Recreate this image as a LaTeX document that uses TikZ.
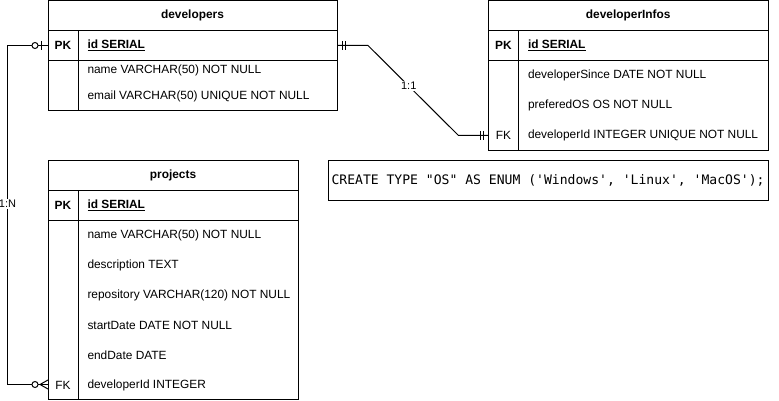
\documentclass[tikz,border=0pt]{standalone}
\usepackage{fontspec}
\setmainfont{Liberation Sans}
\newfontfamily\sqlfont{DejaVu Sans Mono}
\usetikzlibrary{calc}
\begin{document}
\begin{tikzpicture}[x=1pt,y=-1pt,line width=1pt,
  part/.style={draw, rectangle, inner sep=0pt, outer sep=0pt, anchor=north west},
  hidden/.style={rectangle, inner sep=0pt, outer sep=0pt, anchor=west},
  ttl/.style={inner sep=0pt, font=\bfseries\fontsize{11.9}{14}\selectfont},
  fld/.style={anchor=west, inner sep=0pt, font=\fontsize{11.9}{14}\selectfont},
  pkf/.style={anchor=west, inner sep=0pt, font=\bfseries\fontsize{11.9}{14}\selectfont},
  keyl/.style={inner sep=0pt, font=\bfseries\fontsize{11.9}{14}\selectfont},
  fkl/.style={inner sep=0pt, font=\fontsize{11.9}{14}\selectfont},
  lbl/.style={fill=white, inner sep=1pt, font=\fontsize{11}{13}\selectfont},
  conn/.style={draw, line width=1pt},
  endmark/.style={draw, line width=1pt}]
\useasboundingbox (0,0) rectangle (779,401);

% ---------------- developers ----------------
\node[part, minimum width=289pt, minimum height=30pt] (devH) at (48,0.5) {};
\node[part, minimum width=289pt, minimum height=30pt] (devPK) at (48,30.5) {};
\node[part, minimum width=289pt, minimum height=50pt] (devR) at (48,60.5) {};
\draw ($(devPK.north west)+(30,0)$) -- ($(devR.south west)+(30,0)$);
\node[ttl] (devT) at (devH) {developers};
\node[keyl] (devPKk) at (63,45.5) {PK};
\node[pkf] (devPKf) at (87,45.5) {\underline{id SERIAL}};
\node[fld] (devF1) at (87,70.5) {name VARCHAR(50) NOT NULL};
\node[fld] (devF2) at (87,96.5) {email VARCHAR(50) UNIQUE NOT NULL};

% ---------------- developerInfos ----------------
\node[part, minimum width=279.5pt, minimum height=30pt] (infH) at (488.5,0.5) {};
\node[part, minimum width=279.5pt, minimum height=30pt] (infPK) at (488.5,30.5) {};
\node[part, minimum width=279.5pt, minimum height=90pt] (infR) at (488.5,60.5) {};
\draw ($(infPK.north west)+(30,0)$) -- ($(infR.south west)+(30,0)$);
\node[ttl] (infT) at (infH) {developerInfos};
\node[keyl] (infPKk) at (503.5,45.5) {PK};
\node[pkf] (infPKf) at (527.5,45.5) {\underline{id SERIAL}};
\node[fld] (infF1) at (527.5,75.5) {developerSince DATE NOT NULL};
\node[fld] (infF2) at (527.5,105.5) {preferedOS OS NOT NULL};
\node[fld] (infF3) at (527.5,135.5) {developerId INTEGER UNIQUE NOT NULL};
\node[fkl] (infFKk) at (503.5,135.5) {FK};
\node[hidden, minimum width=279.5pt, minimum height=30pt] (infFK) at (488.5,135.5) {};

% ---------------- enum ----------------
\node[part, minimum width=439.5pt, minimum height=40pt] (enumB) at (328.5,160.5) {};
\node[anchor=west, inner sep=0pt, font=\sqlfont\fontsize{13.08}{15}\selectfont] (enumT) at (331,180.5)
  {CREATE TYPE "OS" AS ENUM ('Windows', 'Linux', 'MacOS');};

% ---------------- projects ----------------
\node[part, minimum width=250pt, minimum height=30pt] (prjH) at (48,160.5) {};
\node[part, minimum width=250pt, minimum height=30pt] (prjPK) at (48,190.5) {};
\node[part, minimum width=250pt, minimum height=179pt] (prjR) at (48,220.5) {};
\draw ($(prjPK.north west)+(30,0)$) -- ($(prjR.south west)+(30,0)$);
\node[ttl] (prjT) at (prjH) {projects};
\node[keyl] (prjPKk) at (63,205.5) {PK};
\node[pkf] (prjPKf) at (87,205.5) {\underline{id SERIAL}};
\node[fld] (prjF1) at (87,235.5) {name VARCHAR(50) NOT NULL};
\node[fld] (prjF2) at (87,265.5) {description TEXT};
\node[fld] (prjF3) at (87,295.5) {repository VARCHAR(120) NOT NULL};
\node[fld] (prjF4) at (87,325.5) {startDate DATE NOT NULL};
\node[fld] (prjF5) at (87,355.5) {endDate DATE};
\node[fld] (prjF6) at (87,385) {developerId INTEGER};
\node[fkl] (prjFKk) at (63,385) {FK};
\node[hidden, minimum width=250pt, minimum height=30pt] (prjFK) at (48,384.5) {};

% ---------------- connectors ----------------
\draw[conn] (devPK.east) -- ($(devPK.east)+(31,0)$)
  -- node[lbl, pos=0.45] (l11) {1:1} ($(infFK.west)+(-30,0)$) -- (infFK.west);
\draw[conn] (devPK.west) -- ($(devPK.west)+(-40.5,0)$) |- (prjFK.west);
\node[lbl] (l1N) at (7.5,204) {1:N};

% markers: double bars
\draw[endmark] ($(devPK.east)+(5,-4.5)$) -- ++(0,9);
\draw[endmark] ($(devPK.east)+(8,-4.5)$) -- ++(0,9);
\draw[endmark] ($(infFK.west)+(-5,-4.5)$) -- ++(0,9);
\draw[endmark] ($(infFK.west)+(-8,-4.5)$) -- ++(0,9);
% zero-or-one at developers
\draw[endmark] ($(devPK.west)+(-7,-4.5)$) -- ++(0,9);
\draw[endmark, fill=white] ($(devPK.west)+(-13,0)$) circle[radius=3];
% zero-or-many at projects
\draw[endmark] ($(prjFK.west)+(-8,0)$) -- ($(prjFK.west)+(0,-4.5)$);
\draw[endmark] ($(prjFK.west)+(-8,0)$) -- ($(prjFK.west)+(0,4.5)$);
\draw[endmark, fill=white] ($(prjFK.west)+(-13,0)$) circle[radius=3];
\end{tikzpicture}
\end{document}
